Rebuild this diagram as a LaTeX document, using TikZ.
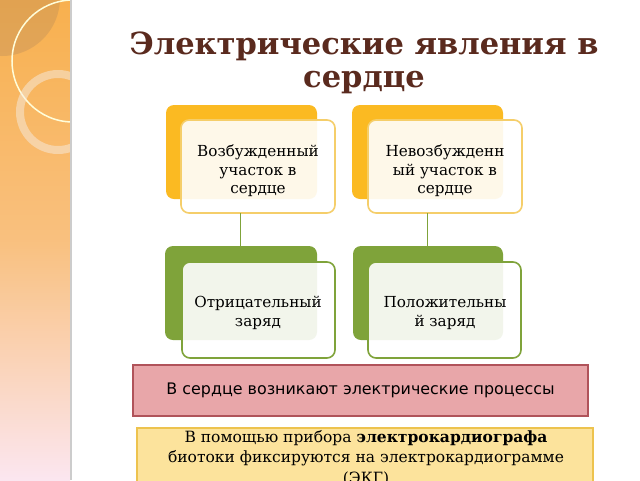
\documentclass[tikz,border=0pt]{standalone}
\usepackage{fontspec}
\setmainfont{DejaVu Serif}
\newfontfamily\dsans{DejaVu Sans}
\definecolor{stripTop}{HTML}{F8B04E}
\definecolor{stripBot}{HTML}{FBE6F0}
\definecolor{titleC}{HTML}{5A2A1E}
\definecolor{orangeC}{HTML}{FBBA22}
\definecolor{orangeB}{HTML}{F5CE6A}
\definecolor{greenC}{HTML}{7FA33A}
\definecolor{pinkF}{HTML}{E8A6A9}
\definecolor{pinkB}{HTML}{B0535A}
\definecolor{yelF}{HTML}{FCE39C}
\definecolor{yelB}{HTML}{EDC34E}
\tikzset{
  backbox/.style={rounded corners=8pt},
  frontbox/.style={draw, line width=1.6pt, rounded corners=8pt, fill=white, fill opacity=0.9},
  boxtext/.style={align=center, font=\fontsize{15.2}{18.5}\selectfont, text=black},
  conn/.style={draw=greenC, line width=1pt},
}
\begin{document}
\begin{tikzpicture}[x=1pt,y=-1pt]
\useasboundingbox (0,0) rectangle (640,480);
\fill[white] (0,0) rectangle (640,480);
% left strip
\shade[top color=stripTop, bottom color=stripBot, middle color=stripTop!70!stripBot] (0,0) rectangle (70,480);
\begin{scope}
\clip (0,0) rectangle (70,480);
\fill[brown!60!gray, opacity=0.28] (2,-2) circle (58);
\draw[white!85!yellow, line width=1.5pt] (73,61) circle (61);
\draw[white!85!brown, opacity=0.5, line width=8pt] (58,112) circle (38);
\end{scope}
\fill[gray!40] (70,0) rectangle (72,480);
% title
\node[font=\bfseries\fontsize{30.5}{33}\selectfont, text=titleC, align=center] (title) at (364,63) {Электрические явления в\\сердце};
% top boxes
\fill[orangeC, backbox] (166,105) rectangle (317,199);
\fill[orangeC, backbox] (352,105) rectangle (503,199);
\draw[frontbox, draw=orangeB] (181,120) rectangle (335,213);
\draw[frontbox, draw=orangeB] (368,120) rectangle (522,213);
\node[boxtext] (t1) at (258,171) {Возбужденный\\участок в\\сердце};
\node[boxtext] (t2) at (445,171) {Невозбужденн\\ый участок в\\сердце};
% green boxes
\fill[greenC, backbox] (165,246) rectangle (317,340);
\fill[greenC, backbox] (353,246) rectangle (503,340);
\draw[frontbox, draw=greenC] (182,262) rectangle (335,358);
\draw[frontbox, draw=greenC] (368,262) rectangle (521,358);
\node[boxtext] (b1) at (258,313) {Отрицательный\\заряд};
\node[boxtext] (b2) at (445,313) {Положительны\\й заряд};
% connectors
\coordinate (c1a) at (240,213); \coordinate (c1b) at (240,246);
\coordinate (c2a) at (427,213); \coordinate (c2b) at (427,246);
\draw[conn] (c1a) -- (c1b);
\draw[conn] (c2a) -- (c2b);
% pink box
\node[draw=pinkB, fill=pinkF, line width=1.5pt, minimum width=455pt, minimum height=51pt, font=\dsans\fontsize{15.9}{18}\selectfont] (pink) at (360.5,390.5) {В сердце возникают электрические процессы};
% yellow box
\fill[yelF] (137,428) rectangle (593,490);
\draw[yelB, line width=1.5pt] (137,490) -- (137,428) -- (593,428) -- (593,490);
\node[align=center, font=\fontsize{15.5}{20.5}\selectfont] (yt) at (366,458) {В помощью прибора \textbf{электрокардиографа}\\биотоки фиксируются на электрокардиограмме\\(ЭКГ)};
\end{tikzpicture}
\end{document}
